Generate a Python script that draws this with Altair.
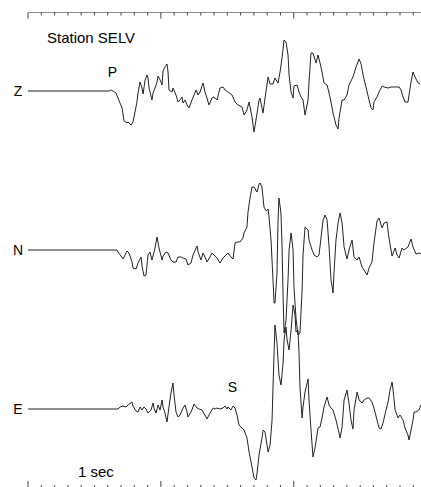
import altair as alt
import pandas as pd

# Three-component seismogram, station SELV (time in seconds, amplitude in counts)
z_time = [0.0, 0.610, 0.625, 0.640, 0.662, 0.677, 0.708, 0.723, 0.745, 0.753, 0.775, 0.790, 0.805, 0.820,
          0.828, 0.843, 0.858, 0.866, 0.881, 0.896, 0.903, 0.911, 0.933, 0.941, 0.956, 0.971, 0.979, 0.994,
          1.009, 1.016, 1.031, 1.046, 1.054, 1.061, 1.084, 1.091, 1.114, 1.129, 1.144, 1.159, 1.167, 1.182,
          1.197, 1.212, 1.234, 1.250, 1.265, 1.280, 1.295, 1.317, 1.332, 1.347, 1.362, 1.385, 1.393, 1.408,
          1.423, 1.445, 1.468, 1.483, 1.505, 1.536, 1.558, 1.581, 1.611, 1.626, 1.648, 1.664, 1.686, 1.701,
          1.716, 1.739, 1.746, 1.769, 1.784, 1.807, 1.822, 1.844, 1.859, 1.882, 1.897, 1.912, 1.927, 1.942,
          1.957, 1.965, 1.980, 1.995, 2.002, 2.025, 2.040, 2.055, 2.070, 2.085, 2.108, 2.115, 2.130, 2.145,
          2.168, 2.183, 2.198, 2.213, 2.228, 2.251, 2.266, 2.281, 2.296, 2.318, 2.334, 2.341, 2.364, 2.379,
          2.401, 2.416, 2.446, 2.469, 2.492, 2.507, 2.522, 2.544, 2.567, 2.582, 2.597, 2.604, 2.627, 2.642,
          2.665, 2.680, 2.710, 2.732, 2.755, 2.793, 2.808, 2.823, 2.838, 2.860, 2.868, 2.883, 2.898, 2.913,
          2.936, 2.951]
z_amp = [0, 0, 1, 0, -2, -7, -17, -30, -32, -31, -34, -31, -21, -11,
         -2, 9, 3, -3, 11, 16, 13, 3, -9, -2, 3, 9, 15, 11,
         6, 20, 24, 27, 19, 1, -1, 3, -4, -11, -9, -6, -12, -9,
         -14, -17, -9, -4, 1, -4, -1, 8, -1, -7, -14, -7, -6, -7,
         -9, 3, 4, 1, -1, -4, -11, -14, -16, -24, -19, -11, -26, -41,
         -29, -9, -7, -22, -7, 14, 7, 7, 13, 8, 19, 33, 51, 49,
         36, 16, -1, -7, 5, 6, -1, -6, -9, -24, -9, 9, 38, 38,
         28, 36, 28, 19, 8, 6, -2, -11, -22, -34, -38, -27, -9, -9,
         -4, 6, 14, 24, 32, 27, 16, 4, -9, -17, -19, -11, -6, -1,
         5, 4, 3, 4, 4, 4, 1, -6, -11, -11, -4, 9, 19, 14,
         8, 7]

n_time = [0.0, 0.670, 0.677, 0.700, 0.715, 0.730, 0.745, 0.760, 0.783, 0.790, 0.813, 0.828, 0.851, 0.858,
          0.873, 0.888, 0.903, 0.918, 0.933, 0.941, 0.956, 0.971, 0.986, 1.009, 1.016, 1.039, 1.054, 1.076,
          1.091, 1.114, 1.129, 1.152, 1.167, 1.189, 1.204, 1.227, 1.242, 1.272, 1.280, 1.302, 1.317, 1.332,
          1.347, 1.370, 1.385, 1.400, 1.423, 1.445, 1.468, 1.490, 1.505, 1.528, 1.543, 1.558, 1.573, 1.596,
          1.618, 1.626, 1.648, 1.656, 1.671, 1.686, 1.701, 1.724, 1.739, 1.746, 1.761, 1.776, 1.792, 1.807,
          1.814, 1.829, 1.844, 1.852, 1.859, 1.874, 1.882, 1.889, 1.904, 1.912, 1.920, 1.927, 1.942, 1.957,
          1.965, 1.980, 1.995, 2.002, 2.017, 2.032, 2.047, 2.063, 2.070, 2.085, 2.108, 2.115, 2.138, 2.153,
          2.175, 2.190, 2.206, 2.221, 2.236, 2.251, 2.266, 2.281, 2.296, 2.303, 2.318, 2.334, 2.349, 2.364,
          2.379, 2.401, 2.416, 2.439, 2.454, 2.477, 2.492, 2.514, 2.529, 2.552, 2.567, 2.589, 2.604, 2.627,
          2.642, 2.665, 2.680, 2.702, 2.717, 2.740, 2.763, 2.778, 2.793, 2.815, 2.830, 2.860, 2.883, 2.898,
          2.921, 2.943, 2.958]
n_amp = [0, 0, -2, -6, -9, -5, -1, -3, -12, -18, -19, -13, -7, -16,
         -26, -25, -5, -2, -10, -6, 2, 13, 2, -10, -6, -2, -3, -10,
         -12, -12, -7, -7, -8, -9, -15, -13, -5, 4, -2, -10, -3, -7,
         -12, -7, -3, -5, -8, -13, -8, -5, -3, -7, -9, 7, 8, 8,
         12, 17, 23, 38, 52, 63, 63, 58, 66, 67, 63, 43, 39, 41,
         33, 10, -30, -53, -53, -23, 30, 52, 37, 3, -47, -83, -70, -30,
         0, 17, 0, -37, -68, -85, -83, -40, -5, 23, 20, 10, 0, -5,
         -7, -5, 13, 30, 35, 30, 3, -30, -43, -23, 10, 27, 37, 27,
         3, -9, 0, 10, -7, -10, -7, -17, -20, -25, -18, -12, 7, 29,
         32, 22, 27, 28, 12, -6, 2, -5, -8, 2, 0, 3, 11, 3,
         -4, -3, -4]

e_time = [0.0, 0.677, 0.693, 0.715, 0.738, 0.753, 0.783, 0.790, 0.813, 0.828, 0.843, 0.858, 0.873, 0.888,
          0.903, 0.926, 0.941, 0.948, 0.964, 0.979, 0.994, 1.009, 1.016, 1.031, 1.046, 1.061, 1.076, 1.091,
          1.099, 1.114, 1.129, 1.144, 1.167, 1.182, 1.197, 1.204, 1.227, 1.242, 1.250, 1.272, 1.287, 1.310,
          1.317, 1.340, 1.347, 1.370, 1.393, 1.408, 1.423, 1.445, 1.468, 1.483, 1.498, 1.505, 1.528, 1.543,
          1.558, 1.573, 1.588, 1.611, 1.626, 1.648, 1.664, 1.686, 1.701, 1.716, 1.724, 1.739, 1.761, 1.769,
          1.784, 1.807, 1.822, 1.837, 1.844, 1.852, 1.859, 1.874, 1.889, 1.904, 1.920, 1.927, 1.942, 1.950,
          1.965, 1.980, 1.995, 2.010, 2.017, 2.032, 2.040, 2.047, 2.063, 2.070, 2.085, 2.108, 2.115, 2.130,
          2.145, 2.160, 2.183, 2.198, 2.213, 2.228, 2.251, 2.266, 2.281, 2.296, 2.318, 2.341, 2.349, 2.364,
          2.379, 2.401, 2.416, 2.431, 2.446, 2.454, 2.477, 2.492, 2.514, 2.529, 2.552, 2.567, 2.589, 2.604,
          2.627, 2.642, 2.657, 2.672, 2.695, 2.710, 2.725, 2.740, 2.748, 2.763, 2.785, 2.800, 2.823, 2.838,
          2.860, 2.868, 2.883, 2.898, 2.906, 2.921, 2.943, 2.958]
e_amp = [0, 0, 2, 3, 2, 4, 7, 3, -2, -3, 2, -1, 2, 0,
         -4, -1, 6, 1, -4, 4, -1, 9, 2, -4, -13, 2, 16, 26,
         14, -3, -8, -6, 1, 4, -3, -8, -3, 2, 5, 1, 0, -1,
         -3, -8, -10, -4, 1, 0, 1, 0, 1, 3, 0, 2, -1, 3,
         1, -6, -16, -19, -21, -29, -43, -58, -69, -71, -64, -46, -29, -21,
         -23, -43, -36, -11, 22, 56, 84, 66, 34, 24, 46, 69, 82, 69,
         59, 79, 104, 94, 77, 79, 56, 22, -9, 2, 17, 30, 9, -21,
         -48, -39, -19, -18, -9, 2, 12, 4, 1, -1, -11, -24, -29, -18,
         9, 19, 6, -11, -20, -1, 17, 9, 6, 9, 11, 11, 7, 1,
         -11, -19, -20, -14, -1, 7, 19, 27, 19, -1, -9, -6, -11, -19,
         -26, -31, -21, -11, -3, -3, -1, 4]

components = ["Z", "N", "E"]
offsets = [0, -159, -318]

# Phase picks: P on the vertical, S on the east component
pick_names = ["P", "S"]
pick_times = [0.636, 1.539]
pick_levels = [14, -301]

major_ticks = [0, 1, 2]
minor_ticks = [round(i * 0.1, 1) for i in range(30) if i % 10 != 0]

frames = []
for comp, off, t, a in zip(components, offsets, [z_time, n_time, e_time], [z_amp, n_amp, e_amp]):
    frames.append(pd.DataFrame({"t": t, "amp": a, "comp": comp, "level": [v + off for v in a]}))
traces = pd.concat(frames, ignore_index=True)

x_scale = alt.Scale(domain=[-0.211, 2.958], nice=False, zero=False)
y_scale = alt.Scale(domain=[-396, 91], nice=False, zero=False)
X = alt.X("t:Q", scale=x_scale, axis=None)

trace_lines = alt.Chart(traces).mark_line(color="#222222", strokeWidth=1).encode(
    x=X,
    y=alt.Y("level:Q", scale=y_scale, axis=None),
    detail="comp:N",
    order="t:Q",
)

label_df = pd.DataFrame({"comp": components, "level": offsets})
comp_labels = alt.Chart(label_df).mark_text(
    font="Liberation Sans", fontSize=14, align="center", baseline="middle", dy=1, color="black"
).encode(
    x=alt.value(18),
    y=alt.Y("level:Q", scale=y_scale, axis=None),
    text="comp:N",
)

pick_df = pd.DataFrame({"name": pick_names, "t": pick_times, "level": pick_levels})
pick_labels = alt.Chart(pick_df).mark_text(
    font="Liberation Sans", fontSize=14, align="center", baseline="alphabetic", color="black"
).encode(
    x=X,
    y=alt.Y("level:Q", scale=y_scale, axis=None),
    text="name:N",
)

title_text = alt.Chart(pd.DataFrame({"txt": ["Station SELV"]})).mark_text(
    font="Liberation Sans", fontSize=15, align="left", baseline="alphabetic", color="black"
).encode(x=alt.value(47), y=alt.value(43), text="txt:N")

scale_text = alt.Chart(pd.DataFrame({"txt": ["1 sec"]})).mark_text(
    font="Liberation Sans", fontSize=15, align="left", baseline="alphabetic", color="black"
).encode(x=alt.value(78), y=alt.value(477), text="txt:N")

# Time ruler along the top and tick marks along the bottom edge
top_line = alt.Chart(pd.DataFrame({"t": [0.0], "t2": [2.958]})).mark_rule(
    color="#8a8a8a", strokeWidth=1
).encode(x=X, x2="t2:Q", y=alt.value(12.5))

major_df = pd.DataFrame({"t": major_ticks})
minor_df = pd.DataFrame({"t": minor_ticks})

top_major = alt.Chart(major_df).mark_rule(color="#444444", strokeWidth=1).encode(
    x=X, y=alt.value(12.5), y2=alt.value(18.5))
top_minor = alt.Chart(minor_df).mark_rule(color="#444444", strokeWidth=1).encode(
    x=X, y=alt.value(12.5), y2=alt.value(15.5))
bot_major = alt.Chart(major_df).mark_rule(color="#444444", strokeWidth=1).encode(
    x=X, y=alt.value(481), y2=alt.value(487))
bot_minor = alt.Chart(minor_df).mark_rule(color="#444444", strokeWidth=1).encode(
    x=X, y=alt.value(485), y2=alt.value(487))

chart = alt.layer(
    top_line, top_major, top_minor, bot_major, bot_minor,
    trace_lines, comp_labels, pick_labels, title_text, scale_text,
).properties(
    width=421, height=487, autosize="none", padding=0, background="white"
).configure_view(stroke=None)

chart.save("out.html", embed_options={"renderer": "svg", "actions": False})
